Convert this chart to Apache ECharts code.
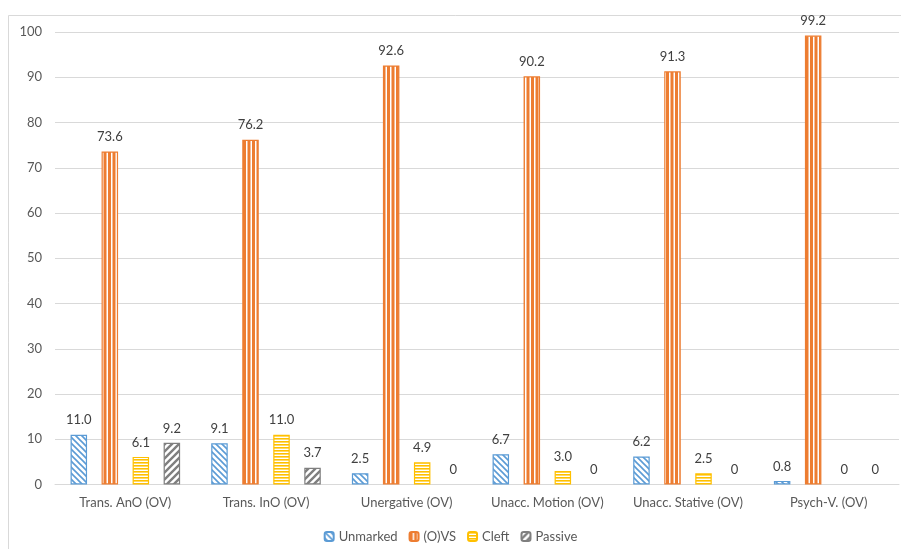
<!DOCTYPE html>
<html>
<head>
<meta charset="utf-8">
<script src="https://cdn.jsdelivr.net/npm/echarts@6/dist/echarts.min.js"></script>
<style>
  html, body { margin: 0; padding: 0; background: #fff; }
  #chart { width: 901px; height: 549px; }
</style>
</head>
<body>
<div id="chart"></div>
<script>
// Categories and series values
const categories = ['Trans. AnO (OV)', 'Trans. InO (OV)', 'Unergative (OV)', 'Unacc. Motion (OV)', 'Unacc. Stative (OV)', 'Psych-V. (OV)'];
const seriesNames = ['Unmarked', '(O)VS', 'Cleft', 'Passive'];
const unmarked = [11.0, 9.1, 2.5, 6.7, 6.2, 0.8];
const ovs = [73.6, 76.2, 92.6, 90.2, 91.3, 99.2];
const cleft = [6.1, 11.0, 4.9, 3.0, 2.5, 0];
const passive = [9.2, 3.7, 0, 0, 0, 0];
const yTicks = { min: 0, max: 100, interval: 10 };

const FONT = 'Lato, "Open Sans", sans-serif';

// Striped fills drawn on small canvases and tiled
function stripes(kind, color) {
  const c = document.createElement('canvas');
  const ctx = c.getContext('2d');
  if (kind === 'vertical') {
    c.width = 4.5 * 2; c.height = 4;
    ctx.fillStyle = '#fff'; ctx.fillRect(0, 0, c.width, c.height);
    ctx.fillStyle = color;
    ctx.fillRect(0, 0, 3, 4);
    ctx.fillRect(4.5, 0, 3, 4);
  } else if (kind === 'horizontal') {
    c.width = 4; c.height = 3;
    ctx.fillStyle = '#fff'; ctx.fillRect(0, 0, c.width, c.height);
    ctx.fillStyle = color;
    ctx.fillRect(0, 0, 4, 1.6);
  } else {
    const s = kind === 'back' ? 6 : 7;
    c.width = s; c.height = s;
    ctx.fillStyle = '#fff'; ctx.fillRect(0, 0, s, s);
    ctx.strokeStyle = color;
    ctx.lineWidth = kind === 'back' ? 1.6 : 2.4;
    ctx.beginPath();
    if (kind === 'back') {
      // "\" direction
      ctx.moveTo(-s, 0); ctx.lineTo(2 * s, 3 * s);
      ctx.moveTo(0, -s); ctx.lineTo(s * 2, s);
      ctx.moveTo(-s, -s); ctx.lineTo(2 * s, 2 * s);
      ctx.moveTo(-2 * s, -s); ctx.lineTo(s, 2 * s);
    } else {
      // "/" direction
      ctx.moveTo(-s, 2 * s); ctx.lineTo(2 * s, -s);
      ctx.moveTo(0, 2 * s); ctx.lineTo(2 * s, 0);
      ctx.moveTo(-s, s); ctx.lineTo(s, -s);
    }
    ctx.stroke();
  }
  return { image: c, repeat: 'repeat' };
}

const styles = [
  { kind: 'back', color: '#5B9BD5' },
  { kind: 'vertical', color: '#ED7D31' },
  { kind: 'horizontal', color: '#FFC000' },
  { kind: 'forward', color: '#7F7F7F' }
];
const dataSets = [unmarked, ovs, cleft, passive];

function fmt(v) { return v === 0 ? '0' : v.toFixed(1); }

const series = dataSets.map((d, i) => ({
  name: seriesNames[i],
  type: 'bar',
  // zero-height bars get no outline so only their label shows
  data: d.map(v => v === 0 ? { value: v, itemStyle: { borderWidth: 0 } } : v),
  barWidth: 16.5,
  barGap: '88%',
  itemStyle: {
    color: stripes(styles[i].kind, styles[i].color),
    borderColor: styles[i].color,
    borderWidth: 1.2
  },
  label: {
    show: true,
    position: 'top',
    distance: 8,
    formatter: p => fmt(p.value),
    color: '#404040',
    fontSize: 13,
    fontFamily: FONT
  }
}));

const chart = echarts.init(document.getElementById('chart'), null, { renderer: 'canvas' });
chart.setOption({
  animation: false,
  backgroundColor: '#fff',
  graphic: [{
    type: 'rect',
    shape: { x: 8.5, y: 15.5, width: 900, height: 540 },
    style: { fill: 'none', stroke: '#D9D9D9', lineWidth: 1 },
    silent: true,
    z: -1
  }],
  grid: { left: 55, right: 2, top: 32, bottom: 64.5, containLabel: false },
  legend: {
    bottom: 1,
    left: 'center',
    itemWidth: 9,
    itemHeight: 9,
    itemGap: 11,
    textStyle: { color: '#595959', fontSize: 13, fontFamily: FONT },
    data: seriesNames
  },
  xAxis: {
    type: 'category',
    data: categories,
    axisTick: { show: false },
    axisLine: { lineStyle: { color: '#D9D9D9', width: 1 } },
    axisLabel: { color: '#595959', fontSize: 13, fontFamily: FONT, margin: 12, interval: 0 }
  },
  yAxis: {
    type: 'value',
    min: yTicks.min,
    max: yTicks.max,
    interval: yTicks.interval,
    axisLine: { show: false },
    axisTick: { show: false },
    splitLine: { lineStyle: { color: '#D9D9D9', width: 1 } },
    axisLabel: { color: '#595959', fontSize: 13, fontFamily: FONT, margin: 13 }
  },
  series: series
});
</script>
</body>
</html>
